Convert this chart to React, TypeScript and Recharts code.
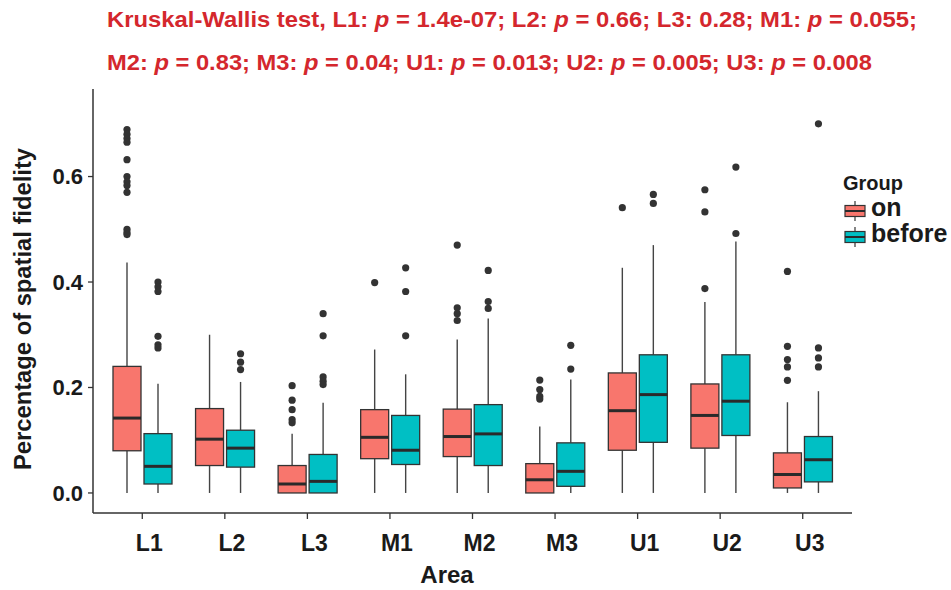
import React from 'react';
import { BarChart, Bar, XAxis, YAxis } from 'recharts';

const areas = ['L1', 'L2', 'L3', 'M1', 'M2', 'M3', 'U1', 'U2', 'U3'];

// group "on"
const onLow = [0, 0, 0, 0, 0, 0, 0, 0, 0];
const onQ1 = [0.08, 0.052, 0, 0.065, 0.069, 0, 0.081, 0.085, 0.0095];
const onMedian = [0.142, 0.102, 0.017, 0.1055, 0.107, 0.025, 0.156, 0.147, 0.035];
const onQ3 = [0.24, 0.16, 0.052, 0.158, 0.159, 0.0556, 0.2276, 0.2067, 0.076];
const onHigh = [0.437, 0.3, 0.1125, 0.272, 0.291, 0.126, 0.427, 0.362, 0.172];
const onOutliers = [
  [0.689, 0.68, 0.672, 0.665, 0.632, 0.6, 0.59, 0.583, 0.57, 0.5, 0.494, 0.49],
  [],
  [0.2035, 0.176, 0.158, 0.139, 0.133],
  [0.399],
  [0.47, 0.351, 0.34, 0.327],
  [0.214, 0.196, 0.183, 0.178],
  [0.541],
  [0.575, 0.533, 0.3875],
  [0.42, 0.278, 0.253, 0.239, 0.2136]
];

// group "before"
const beforeLow = [0, 0, 0, 0, 0, 0, 0, 0, 0];
const beforeQ1 = [0.017, 0.049, 0, 0.054, 0.052, 0.0126, 0.096, 0.109, 0.021];
const beforeMedian = [0.0505, 0.085, 0.022, 0.081, 0.112, 0.041, 0.1865, 0.174, 0.063];
const beforeQ3 = [0.1125, 0.119, 0.073, 0.147, 0.1675, 0.095, 0.262, 0.262, 0.107];
const beforeHigh = [0.207, 0.2105, 0.171, 0.225, 0.331, 0.215, 0.47, 0.477, 0.193];
const beforeOutliers = [
  [0.4, 0.391, 0.382, 0.297, 0.281, 0.275],
  [0.264, 0.248, 0.234],
  [0.34, 0.298, 0.22, 0.212, 0.2055],
  [0.427, 0.382, 0.298],
  [0.422, 0.363, 0.35],
  [0.28, 0.235],
  [0.566, 0.549],
  [0.618, 0.492],
  [0.7, 0.275, 0.256, 0.239]
];

const yTicks = [0, 0.2, 0.4, 0.6];

const ON_COLOR = '#F8766D';
const BEFORE_COLOR = '#00BFC4';
const FONT = '"Liberation Sans", Arial, sans-serif';
const TEXT = '#1a1a1a';
const RED = '#d4272d';

const data = areas.map((area, i) => ({
  area,
  onBox: [onQ1[i], onQ3[i]],
  beforeBox: [beforeQ1[i], beforeQ3[i]],
  on: { low: onLow[i], q1: onQ1[i], median: onMedian[i], q3: onQ3[i], high: onHigh[i], out: onOutliers[i] },
  before: {
    low: beforeLow[i],
    q1: beforeQ1[i],
    median: beforeMedian[i],
    q3: beforeQ3[i],
    high: beforeHigh[i],
    out: beforeOutliers[i]
  }
}));

const BoxShape = (props: any) => {
  const { x, y, width, height, payload, fill, group } = props;
  const s = payload[group];
  const top = Math.min(y, y + height);
  const h = Math.abs(height);
  const k = h / (s.q3 - s.q1); // px per unit, taken from the bar the axis scale drew
  const yOf = (v: number) => top + h - (v - s.q1) * k;
  const cx = x + width / 2;
  return (
    <g>
      <line x1={cx} x2={cx} y1={yOf(s.high)} y2={top} stroke="#444" strokeWidth={1.4} />
      <line x1={cx} x2={cx} y1={top + h} y2={yOf(s.low)} stroke="#444" strokeWidth={1.4} />
      <rect x={x} y={top} width={width} height={h} fill={fill} stroke="#333" strokeWidth={1.3} />
      <line x1={x} x2={x + width} y1={yOf(s.median)} y2={yOf(s.median)} stroke="#2a2a2a" strokeWidth={3} />
      {s.out.map((v: number, j: number) => (
        <circle key={j} cx={cx} cy={yOf(v)} r={3.6} fill="#333" />
      ))}
    </g>
  );
};

const AreaTick = (props: any) => {
  const { x, y, payload } = props;
  return (
    <text x={x + 7} y={y} dy="0.71em" textAnchor="middle" fontFamily={FONT} fontWeight="bold" fontSize={23} fill={TEXT}>
      {payload.value}
    </text>
  );
};

const LegendKey = ({ x, y, fill }: { x: number; y: number; fill: string }) => (
  <g>
    <line x1={x + 10} x2={x + 10} y1={y - 10} y2={y + 10} stroke="#444" strokeWidth={1.3} />
    <rect x={x} y={y - 5.5} width={20} height={11} fill={fill} stroke="#333" strokeWidth={1.2} />
    <line x1={x} x2={x + 20} y1={y} y2={y} stroke="#2a2a2a" strokeWidth={2} />
  </g>
);

export default function App() {
  return (
    <div style={{ position: 'absolute', left: 0, top: 0, width: 951, height: 590, background: '#fff' }}>
      <BarChart
        width={951}
        height={590}
        data={data}
        margin={{ top: 89, right: 99, left: 0, bottom: 0 }}
        barSize={28}
        barGap={3}
      >
        <XAxis
          dataKey="area"
          height={77}
          padding={{ left: 8, right: 8 }}
          tick={<AreaTick />}
          tickSize={6}
          tickMargin={16}
          axisLine={{ stroke: '#333', strokeWidth: 1.5 }}
          tickLine={{ stroke: '#333', strokeWidth: 1.3 }}
          interval={0}
        />
        <YAxis
          width={93}
          type="number"
          domain={[-0.038, 0.766]}
          ticks={yTicks}
          tickFormatter={(v: number) => v.toFixed(1)}
          tick={{ fontFamily: FONT, fontWeight: 'bold', fontSize: 22, fill: TEXT }}
          tickSize={5}
          tickMargin={5}
          axisLine={{ stroke: '#333', strokeWidth: 1.5 }}
          tickLine={{ stroke: '#333', strokeWidth: 1.3 }}
          allowDataOverflow
        />
        <Bar
          dataKey="onBox"
          fill={ON_COLOR}
          isAnimationActive={false}
          shape={(p: any) => <BoxShape {...p} group="on" />}
        />
        <Bar
          dataKey="beforeBox"
          fill={BEFORE_COLOR}
          isAnimationActive={false}
          shape={(p: any) => <BoxShape {...p} group="before" />}
        />
      </BarChart>
      <svg
        width={951}
        height={590}
        style={{ position: 'absolute', left: 0, top: 0, pointerEvents: 'none' }}
        fontFamily={FONT}
        fontWeight="bold"
      >
        <text x={107} y={27} fontSize={22} fill={RED} textLength={810} lengthAdjust="spacingAndGlyphs">
          Kruskal-Wallis test, L1: <tspan fontStyle="italic">p</tspan> = 1.4e-07; L2: <tspan fontStyle="italic">p</tspan> = 0.66; L3: 0.28; M1: <tspan fontStyle="italic">p</tspan> = 0.055;
        </text>
        <text x={107} y={70} fontSize={22} fill={RED} textLength={765} lengthAdjust="spacingAndGlyphs">
          M2: <tspan fontStyle="italic">p</tspan> = 0.83; M3: <tspan fontStyle="italic">p</tspan> = 0.04; U1: <tspan fontStyle="italic">p</tspan> = 0.013; U2: <tspan fontStyle="italic">p</tspan> = 0.005; U3: <tspan fontStyle="italic">p</tspan> = 0.008
        </text>
        <text
          x={0}
          y={0}
          transform="translate(31,309) rotate(-90)"
          textAnchor="middle"
          fontSize={24}
          fill={TEXT}
          textLength={322}
          lengthAdjust="spacingAndGlyphs"
        >
          Percentage of spatial fidelity
        </text>
        <text x={447} y={583} textAnchor="middle" fontSize={24} fill={TEXT}>
          Area
        </text>
        <text x={843} y={190} fontSize={20} fill={TEXT}>
          Group
        </text>
        <LegendKey x={845} y={211} fill={ON_COLOR} />
        <text x={871} y={216} fontSize={25} fill={TEXT}>
          on
        </text>
        <LegendKey x={845} y={237} fill={BEFORE_COLOR} />
        <text x={871} y={242} fontSize={25} fill={TEXT}>
          before
        </text>
      </svg>
    </div>
  );
}
